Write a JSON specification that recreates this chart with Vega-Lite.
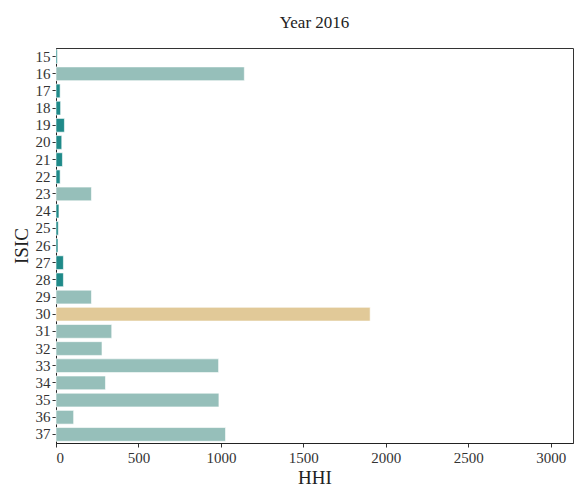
{
  "$schema": "https://vega.github.io/schema/vega-lite/v6.json",
  "autosize": "none",
  "width": 517,
  "height": 395,
  "padding": {"left": 56, "top": 48, "right": 3, "bottom": 47},
  "background": "white",
  "title": {"text": "Year 2016", "font": "Liberation Serif", "fontSize": 17, "fontWeight": "normal", "color": "#222", "offset": 16, "anchor": "middle"},
  "config": {
    "view": {"stroke": "#333", "strokeWidth": 1},
    "axis": {"grid": false, "labelFont": "Liberation Serif", "titleFont": "Liberation Serif", "labelFontSize": 15, "titleFontSize": 19, "titleFontWeight": "normal", "labelColor": "#333", "titleColor": "#222", "domainColor": "#222", "tickColor": "#333", "tickSize": 4}
  },
  "data": {"values": [
    {"ISIC": "15", "HHI": 8, "level": "low"},
    {"ISIC": "16", "HHI": 1142, "level": "high"},
    {"ISIC": "17", "HHI": 25, "level": "low"},
    {"ISIC": "18", "HHI": 28, "level": "low"},
    {"ISIC": "19", "HHI": 51, "level": "low"},
    {"ISIC": "20", "HHI": 35, "level": "low"},
    {"ISIC": "21", "HHI": 39, "level": "low"},
    {"ISIC": "22", "HHI": 25, "level": "low"},
    {"ISIC": "23", "HHI": 215, "level": "high"},
    {"ISIC": "24", "HHI": 18, "level": "low"},
    {"ISIC": "25", "HHI": 14, "level": "low"},
    {"ISIC": "26", "HHI": 12, "level": "low"},
    {"ISIC": "27", "HHI": 45, "level": "low"},
    {"ISIC": "28", "HHI": 45, "level": "low"},
    {"ISIC": "29", "HHI": 215, "level": "high"},
    {"ISIC": "30", "HHI": 1905, "level": "max"},
    {"ISIC": "31", "HHI": 338, "level": "high"},
    {"ISIC": "32", "HHI": 279, "level": "high"},
    {"ISIC": "33", "HHI": 986, "level": "high"},
    {"ISIC": "34", "HHI": 300, "level": "high"},
    {"ISIC": "35", "HHI": 988, "level": "high"},
    {"ISIC": "36", "HHI": 107, "level": "high"},
    {"ISIC": "37", "HHI": 1028, "level": "high"}
  ]},
  "mark": {"type": "bar", "stroke": "white", "strokeOpacity": 0.6, "strokeWidth": 1},
  "encoding": {
    "y": {"field": "ISIC", "type": "ordinal", "title": "ISIC",
      "scale": {"paddingInner": 0.2, "paddingOuter": 0.1},
      "axis": {"labelPadding": 2, "titlePadding": 4}},
    "x": {"field": "HHI", "type": "quantitative", "title": "HHI",
      "scale": {"domain": [0, 3135], "nice": false, "zero": true},
      "axis": {"values": [0, 500, 1000, 1500, 2000, 2500, 3000], "format": "d", "labelPadding": 3, "titlePadding": 3}},
    "color": {"field": "level", "type": "nominal", "legend": null,
      "scale": {"domain": ["low", "high", "max"], "range": ["#1F8A89", "#96BFBA", "#E1C998"]}}
  }
}
